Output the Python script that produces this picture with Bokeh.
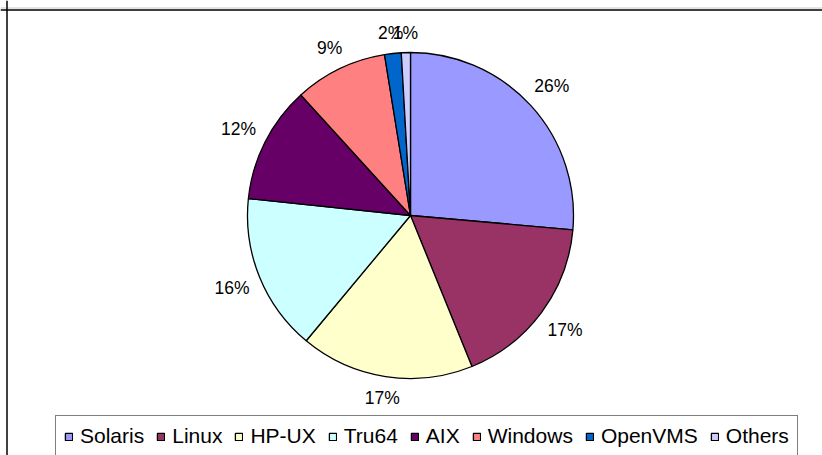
import math
from bokeh.plotting import figure
from bokeh.models import Range1d, Legend, LegendItem, Span
from bokeh.core.properties import value
from bokeh.embed import file_html
from bokeh.resources import INLINE

# ---- data ----
systems = ["Solaris", "Linux", "HP-UX", "Tru64", "AIX", "Windows", "OpenVMS", "Others"]
shares = [26.4, 17.45, 17.2, 15.6, 11.6, 9.2, 1.65, 0.9]
colors = ["#9999FF", "#993366", "#FFFFCC", "#CCFFFF", "#660066", "#FF8080", "#0066CC", "#CCCCFF"]

W, H = 822, 455
p = figure(width=W, height=H, output_backend="svg", toolbar_location=None,
           x_range=Range1d(0, W), y_range=Range1d(-H, 0),
           min_border=0, border_fill_color="white", background_fill_color="white")
p.axis.visible = False
p.grid.visible = False
p.outline_line_color = None

cx, cy, R = 410, -215, 163
total = sum(shares)
starts, ends, lx, ly, labels = [], [], [], [], []
cum = 0.0
font_px = 17.5
for s in shares:
    a0 = math.pi / 2 - 2 * math.pi * (cum + s) / total
    a1 = math.pi / 2 - 2 * math.pi * cum / total
    starts.append(a0)
    ends.append(a1)
    mid = (a0 + a1) / 2
    txt = f"{100 * s / total:.0f}%"
    labels.append(txt)
    w = 0.59 * font_px * len(txt)
    h = 0.72 * font_px
    dx, dy = math.cos(mid), math.sin(mid)
    rl = R + 13 + abs(dx) * w / 2 + abs(dy) * h / 2
    lx.append(cx + rl * dx)
    ly.append(cy + rl * dy)
    cum += s

items = []
for i in range(len(systems)):
    r = p.wedge(x=cx, y=cy, radius=R, radius_units="screen",
                start_angle=starts[i], end_angle=ends[i],
                fill_color=colors[i], line_color="black", line_width=1.3)
    items.append(LegendItem(label=systems[i], renderers=[r]))

p.text(x=lx, y=ly, text=labels, text_align="center", text_baseline="middle",
       text_font=value("Liberation Sans"), text_font_size=f"{font_px}px", text_color="black")

# chart area frame (top & left edges visible)
p.add_layout(Span(location=-7.5, dimension="width", line_color="#c8c8c8", line_width=1))
p.add_layout(Span(location=-9.5, dimension="width", line_color="black", line_width=1.5))
p.add_layout(Span(location=6.5, dimension="height", line_color="black", line_width=1.5))

legend = Legend(items=items, orientation="horizontal", location=(55, -2),
                label_text_font="Liberation Sans", label_text_font_size="21px",
                label_text_color="black",
                glyph_width=9, glyph_height=9, label_standoff=7, spacing=12,
                padding=8, label_height=23, margin=0,
                border_line_color="black", border_line_width=1,
                background_fill_color="white", background_fill_alpha=1)
p.add_layout(legend, "center")

open("out.html", "w").write(file_html(p, INLINE))
